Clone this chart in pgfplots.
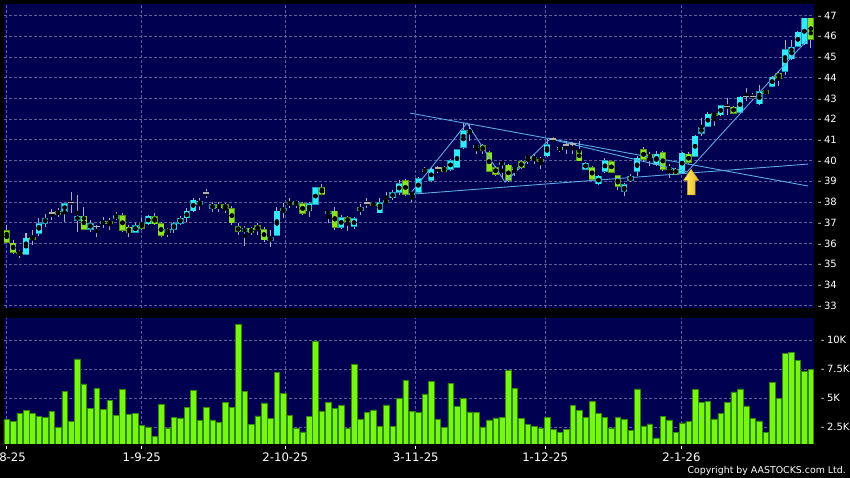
\documentclass[border=0pt]{standalone}
\usepackage{fontspec}
\setmainfont{DejaVu Sans}
\usepackage{pgfplots}
\usepackage{pgfplotstable}
\pgfplotsset{compat=1.18}

\definecolor{navy}{HTML}{000050}
\definecolor{upc}{HTML}{33E8F8}
\definecolor{upe}{HTML}{1A98B8}
\definecolor{dnc}{HTML}{8CE226}
\definecolor{dne}{HTML}{55951A}
\definecolor{doji}{HTML}{B0B0B0}
\definecolor{wick}{HTML}{A8AEBC}
\definecolor{volc}{HTML}{77F514}
\definecolor{vole}{HTML}{2E8A00}
\definecolor{trend}{HTML}{5AA8E6}
\definecolor{gridc}{HTML}{5E5E9C}
\definecolor{arrowa}{HTML}{FFEC70}
\definecolor{arrowb}{HTML}{F2B820}

% candles: index, open, high, low, close
\pgfplotstableread{
i o h l c
3 35.49 36.49 35.49 36.25
5 36.49 37.21 36.36 36.97
6 36.97 37.42 36.81 37.21
9 37.53 37.97 37.05 37.93
11 37.10 38.36 36.57 37.32
13 36.68 37.13 36.57 36.97
15 36.94 37.29 36.73 37.07
17 37.21 37.54 37.13 37.35
20 36.54 36.97 36.49 36.87
22 36.94 37.37 36.89 37.32
25 36.55 36.73 36.30 36.65
26 36.68 37.05 36.52 36.97
27 36.97 37.32 36.89 37.22
28 37.24 37.69 37.05 37.56
29 37.58 38.17 37.53 38.09
30 37.88 38.17 37.61 38.04
32 37.69 38.01 37.53 37.88
37 36.57 36.84 35.90 36.73
41 36.14 36.65 35.85 36.27
42 36.38 37.77 36.36 37.56
43 37.58 37.93 37.21 37.69
45 37.88 38.12 37.69 38.04
47 37.58 38.01 37.29 37.93
48 37.88 38.72 37.85 38.69
50 37.45 37.56 37.00 37.56
52 36.78 37.37 36.68 37.24
54 36.81 37.29 36.71 37.21
55 37.58 37.90 37.37 37.74
58 37.48 38.20 37.45 37.97
59 37.97 38.48 37.93 38.09
60 38.20 38.56 38.09 38.44
61 38.47 39.04 38.33 38.87
63 38.36 38.45 37.98 38.42
64 38.47 39.22 38.44 39.14
65 39.46 39.67 39.40 39.56
66 39.03 39.67 38.95 39.59
69 39.59 40.07 39.51 39.99
70 39.67 40.56 39.66 40.51
71 40.64 41.81 40.56 41.44
73 40.64 40.80 40.31 40.72
77 39.83 39.91 39.11 39.91
79 39.56 39.75 39.27 39.67
81 40.11 40.27 39.83 40.19
84 40.23 41.04 40.15 40.75
86 40.52 40.72 40.40 40.64
90 39.59 39.94 39.56 39.88
92 38.87 39.30 38.82 39.24
93 39.48 40.11 39.40 39.99
96 38.52 38.90 38.31 38.82
97 39.03 39.35 38.95 39.24
98 39.48 40.23 39.27 40.11
101 39.80 40.48 39.75 40.31
103 39.56 39.83 39.14 39.67
105 39.40 40.40 39.35 40.35
107 40.20 41.23 40.15 41.17
108 41.31 42.03 41.20 41.60
109 41.65 42.32 41.60 42.24
111 42.20 42.70 42.15 42.64
114 42.34 43.13 42.29 43.06
117 42.74 43.66 42.69 43.33
119 43.58 44.09 43.54 44.03
121 44.30 45.83 44.14 45.34
122 44.91 45.83 44.86 45.47
123 45.50 46.23 45.47 46.20
124 45.63 46.87 45.59 46.87
}\upT

\pgfplotstableread{
i o h l c
0 36.60 36.89 36.02 36.05
1 36.01 36.17 35.50 35.57
2 35.58 35.70 35.30 35.50
4 36.30 36.65 35.93 36.20
8 37.56 37.69 37.29 37.40
12 37.32 37.77 36.65 36.68
16 37.07 37.21 36.65 36.94
18 37.35 37.45 36.57 36.62
19 36.78 36.89 36.30 36.54
21 36.97 37.21 36.65 36.73
23 37.29 37.45 36.89 36.94
24 36.94 37.05 36.30 36.40
33 37.88 38.01 37.53 37.72
34 37.88 37.93 37.45 37.69
35 37.69 37.80 36.89 37.00
36 36.81 37.00 36.41 36.57
38 36.73 36.81 36.41 36.54
39 36.87 36.97 36.41 36.65
40 36.68 36.78 36.09 36.17
44 37.99 38.17 37.69 37.88
46 37.93 38.01 37.37 37.45
49 38.69 38.85 38.33 38.36
51 37.56 37.77 36.65 36.78
53 37.24 37.32 36.62 37.05
57 37.93 38.01 37.77 37.83
62 39.04 39.12 38.29 38.37
68 39.64 39.75 39.43 39.48
72 41.44 41.76 40.96 41.36
74 40.72 40.80 40.31 40.48
75 40.39 40.48 39.43 39.48
76 39.67 39.75 39.27 39.35
78 39.78 39.83 38.98 39.03
80 39.94 40.04 39.59 39.67
82 40.15 40.31 39.83 40.07
83 40.07 40.15 39.59 39.96
89 40.48 40.96 39.96 39.99
91 39.67 39.75 39.08 39.11
94 39.96 40.00 39.40 39.43
95 39.27 39.30 38.60 38.76
99 40.52 40.64 39.99 40.07
100 40.27 40.40 39.75 40.15
102 40.39 40.48 39.51 39.56
104 39.59 39.62 39.30 39.35
106 40.31 40.40 39.83 39.91
110 42.27 42.32 41.68 42.16
113 42.58 42.64 42.26 42.29
118 43.37 43.41 43.17 43.25
120 44.22 44.30 43.61 43.98
125 46.87 46.87 45.42 45.86
}\dnT

\pgfplotstableread{
i o h l c
7 37.48 37.64 37.13 37.48
10 37.97 38.48 37.45 37.97
14 36.81 36.89 36.30 36.81
31 38.44 38.64 38.17 38.44
56 37.96 38.17 37.69 37.96
67 39.64 39.75 39.40 39.64
85 41.04 41.12 40.88 41.04
87 40.75 40.96 40.31 40.75
88 40.80 40.88 40.31 40.80
112 42.61 43.01 42.21 42.61
115 43.09 43.50 42.85 43.09
116 43.09 43.25 42.93 43.09
}\djT

% volume in thousands
\pgfplotstableread{
i v
0 3.17
1 3.03
2 3.72
3 3.98
4 3.69
5 3.43
6 3.34
7 3.89
8 2.48
9 5.62
10 3.03
11 8.39
12 6.25
13 4.15
14 5.88
15 4.03
16 4.84
17 3.54
18 5.76
19 3.60
20 3.69
21 2.68
22 2.54
23 1.70
24 4.47
25 2.45
26 3.37
27 3.31
28 4.21
29 5.71
30 3.08
31 4.21
32 3.14
33 2.91
34 4.64
35 4.21
36 11.35
37 5.59
38 2.77
39 3.49
40 4.61
41 3.29
42 7.26
43 5.42
44 3.52
45 2.39
46 2.10
47 3.46
48 9.91
49 3.89
50 4.67
51 4.15
52 4.38
53 2.42
54 7.95
55 3.17
56 3.80
57 4.01
58 2.59
59 4.44
60 2.59
61 5.01
62 6.57
63 3.89
64 3.78
65 5.39
66 6.48
67 3.20
68 2.48
69 6.31
70 4.32
71 5.01
72 3.83
73 3.80
74 2.54
75 3.14
76 3.31
77 3.34
78 7.44
79 5.88
80 3.29
81 2.77
82 2.56
83 2.42
84 3.37
85 2.33
86 2.05
87 2.33
88 4.38
89 3.98
90 3.34
91 4.73
92 3.69
93 3.34
94 2.45
95 3.34
96 3.20
97 2.22
98 5.82
99 2.62
100 2.80
101 1.58
102 3.43
103 3.14
104 2.05
105 2.88
106 3.03
107 5.76
108 4.67
109 4.76
110 3.23
111 3.69
112 4.67
113 5.56
114 5.82
115 4.35
116 3.26
117 3.05
118 2.07
119 6.40
120 5.01
121 8.85
122 8.99
123 8.27
124 7.32
125 7.49
}\volT

\pgfplotsset{
  panel/.style={
    scale only axis, width=810pt,
    xmin=-0.42, xmax=125.5,
    axis background/.style={fill=navy},
    axis line style={draw=none},
    xtick={0,21,43.3,63.6,83.7,104.9},
    xmajorgrids, ymajorgrids,
    major grid style={gridc, line width=0.7pt, dash pattern=on 3pt off 2pt},
    ytick pos=right, yticklabel pos=right,
    ytick style={draw=none},
    /pgf/number format/assume math mode=true,
    yticklabel style={font=\fontsize{10}{12}\selectfont, text=white, anchor=west, inner sep=0pt, xshift=3.6pt},
  },
}

% wick + body of one colour group
\newcommand\candles[3]{%
  \addplot[only marks, mark=none, error bars/.cd, y dir=both, y explicit, error mark=none,
    error bar style={wick, line width=1pt}]
    table[x=i, y expr={(\thisrow{h}+\thisrow{l})/2}, y error expr={(\thisrow{h}-\thisrow{l})/2}]{#1};
  \addplot[only marks, mark=none, error bars/.cd, y dir=both, y explicit, error mark=none,
    error bar style={#3, line width=6.4pt}]
    table[x=i, y expr={(\thisrow{o}+\thisrow{c})/2}, y error expr={abs(\thisrow{c}-\thisrow{o})/2+0.025}]{#1};
  \addplot[only marks, mark=none, error bars/.cd, y dir=both, y explicit, error mark=none,
    error bar style={#2, line width=5.3pt}]
    table[x=i, y expr={(\thisrow{o}+\thisrow{c})/2}, y error expr={max(abs(\thisrow{c}-\thisrow{o})/2-0.008,0.002)}]{#1};
}

\begin{document}
\begin{tikzpicture}
\fill[black] (0,0) rectangle (850pt,478pt);

% price panel
\begin{axis}[panel, at={(4pt,169.7pt)}, anchor=south west, height=304.3pt,
  ymin=32.87, ymax=47.555, ytick={33,...,47},
  xticklabels={}, xtick style={draw=none},
  yticklabel={-\hspace{2.6pt}\pgfmathprintnumber{\tick}},
]
\candles{\upT}{upc}{upe}
\candles{\dnT}{dnc}{dne}
\addplot[only marks, mark=none, error bars/.cd, y dir=both, y explicit, error mark=none,
  error bar style={wick, line width=1pt}]
  table[x=i, y expr={(\thisrow{h}+\thisrow{l})/2}, y error expr={(\thisrow{h}-\thisrow{l})/2}]{\djT};
\addplot[only marks, mark=-, mark size=3pt, mark options={doji, line width=1.5pt}]
  table[x=i, y=o]{\djT};
% trend lines
\addplot[trend, line width=0.9pt, no marks] coordinates {(62.7,42.29) (124.6,38.77)};
\addplot[trend, line width=0.9pt, no marks] coordinates {(62.7,38.37) (124.6,39.83)};
\addplot[trend, line width=0.9pt, no marks] coordinates {(62.7,38.39) (71.56,41.81) (77.47,38.96) (84.47,41.04) (105.77,39.45) (124.3,45.77)};
% arrow
\addplot[left color=arrowa, right color=arrowb, draw=arrowb!85!black, line width=0.5pt]
  coordinates {(106.39,39.58) (107.6,39.04) (107.0,39.04) (107.0,38.34) (105.8,38.34) (105.8,39.04) (105.2,39.04)} -- cycle;
\end{axis}

% volume panel
\begin{axis}[panel, at={(4pt,34pt)}, anchor=south west, height=125.7pt,
  ymin=1.06, ymax=11.9, ytick={2.5,5,7.5,10},
  yticklabel={-\hspace{2.6pt}\pgfmathprintnumber{\tick}K},
  xtick pos=bottom, tick align=outside, major tick length=3pt,
  xtick style={draw=white, line width=0.8pt, yshift=-2pt},
  xticklabels={1-8-25,1-9-25,2-10-25,3-11-25,1-12-25,2-1-26},
  xticklabel style={font=\fontsize{11.7}{14}\selectfont, text=white, yshift=-2.5pt},
]
\addplot[ybar, bar width=0.86, fill=volc, draw=vole, line width=0.5pt] table[x=i, y=v]{\volT};
\end{axis}

\node[anchor=east, inner sep=0pt, text=white, font=\fontsize{9.4}{11}\selectfont] at (846pt,7.2pt) {Copyright by AASTOCKS.com Ltd.};

\pgfresetboundingbox
\useasboundingbox (0,0) rectangle (850pt,478pt);
\end{tikzpicture}
\end{document}
